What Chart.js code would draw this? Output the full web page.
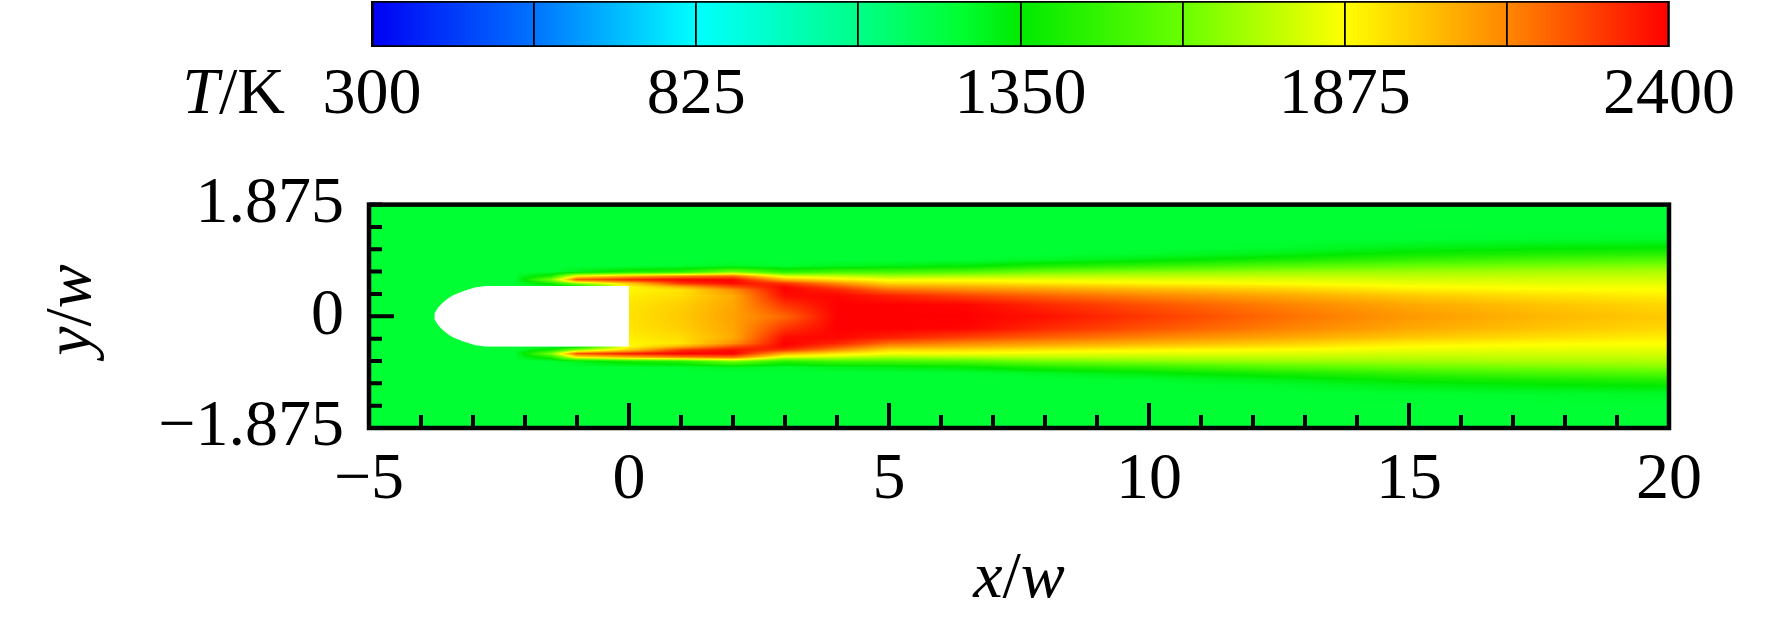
<!DOCTYPE html>
<html>
<head>
<meta charset="utf-8">
<script src="https://cdn.jsdelivr.net/npm/chart.js@4.4.1/dist/chart.umd.min.js"></script>
<style>
  html, body { margin: 0; padding: 0; background: #fff; }
  #wrap { position: relative; width: 1772px; height: 618px; }
  #cbar { position: absolute; left: 0; top: 0; }
  #field { position: absolute; left: 0; top: 140px; }
</style>
</head>
<body>
<div id="wrap">
  <canvas id="cbar" width="1772" height="140"></canvas>
  <canvas id="field" width="1772" height="478"></canvas>
</div>
<script>
//Colour scale
var cmap_T = [300, 562.5, 825, 1087.5, 1250, 1350, 1612.5, 1875, 2137.5, 2400];
var cmap_rgb = [[0, 0, 245], [0, 115, 255], [0, 255, 255], [0, 255, 135], [0, 255, 51], [0, 234, 0],
                [105, 255, 0], [255, 255, 0], [255, 135, 0], [255, 0, 0]];
var cbar_ticks = [300, 562.5, 825, 1087.5, 1350, 1612.5, 1875, 2137.5, 2400];
var cbar_labels = [300, 825, 1350, 1875, 2400];

//Temperature. Field is symmetric, so only |y/w| is kept
var x_stations = [-5, -2.2, -1.5, -1, 0, 1, 2, 3, 4, 5, 6.5, 8, 10, 12.5, 15, 17.5, 20];
var y_stations = [0, 0.2, 0.35, 0.45, 0.5, 0.56, 0.62, 0.68, 0.75, 0.85, 0.95, 1.05, 1.15, 1.3, 1.5, 1.875];
var T_rows = [
  [1250, 1250, 1250, 1250, 1250, 1250, 1250, 1250, 1250, 1250, 1250, 1250, 1250, 1250, 1250, 1250], // -5
  [1250, 1250, 1250, 1250, 1250, 1250, 1250, 1250, 1250, 1250, 1250, 1250, 1250, 1250, 1250, 1250], // -2.2
  [1250, 1250, 1250, 1250, 1250, 1400, 1650, 1420, 1250, 1250, 1250, 1250, 1250, 1250, 1250, 1250], // -1.5
  [1250, 1250, 1250, 1250, 1300, 1700, 2250, 1900, 1300, 1250, 1250, 1250, 1250, 1250, 1250, 1250], // -1
  [1940, 1930, 1910, 1890, 1880, 2000, 2350, 2050, 1400, 1250, 1250, 1250, 1250, 1250, 1250, 1250], // 0
  [1990, 1980, 1950, 1930, 2050, 2300, 2400, 2150, 1450, 1260, 1250, 1250, 1250, 1250, 1250, 1250], // 1
  [2080, 2070, 2060, 2120, 2250, 2380, 2400, 2200, 1650, 1280, 1250, 1250, 1250, 1250, 1250, 1250], // 2
  [2200, 2300, 2380, 2400, 2390, 2300, 2050, 1820, 1450, 1260, 1250, 1250, 1250, 1250, 1250, 1250], // 3
  [2400, 2400, 2390, 2330, 2250, 2120, 1930, 1780, 1520, 1290, 1250, 1250, 1250, 1250, 1250, 1250], // 4
  [2400, 2400, 2340, 2190, 2090, 1960, 1860, 1720, 1530, 1310, 1250, 1250, 1250, 1250, 1250, 1250], // 5
  [2400, 2390, 2270, 2130, 2060, 1950, 1860, 1740, 1560, 1340, 1255, 1250, 1250, 1250, 1250, 1250], // 6.5
  [2370, 2320, 2210, 2090, 2020, 1920, 1840, 1760, 1630, 1420, 1280, 1250, 1250, 1250, 1250, 1250], // 8
  [2290, 2240, 2140, 2040, 1975, 1890, 1830, 1760, 1670, 1480, 1330, 1265, 1250, 1250, 1250, 1250], // 10
  [2190, 2150, 2070, 1985, 1935, 1870, 1820, 1770, 1700, 1560, 1410, 1310, 1265, 1250, 1250, 1250], // 12.5
  [2100, 2065, 1995, 1915, 1880, 1840, 1800, 1760, 1710, 1610, 1480, 1380, 1310, 1255, 1250, 1250], // 15
  [2035, 2005, 1945, 1885, 1860, 1830, 1800, 1770, 1725, 1640, 1530, 1420, 1340, 1265, 1250, 1250], // 17.5
  [1990, 1960, 1910, 1870, 1855, 1830, 1800, 1770, 1735, 1660, 1560, 1450, 1360, 1275, 1250, 1250]  // 20
];

//Bluff body outline (white)
var body_x = [0, -2.75, -2.97, -3.2, -3.37, -3.47, -3.57, -3.64, -3.69, -3.72, -3.73,
              -3.72, -3.69, -3.64, -3.57, -3.47, -3.37, -3.2, -2.97, -2.75, 0];
var body_y = [0.5, 0.5, 0.475, 0.41, 0.35, 0.30, 0.23, 0.17, 0.11, 0.06, 0,
              -0.06, -0.11, -0.17, -0.23, -0.30, -0.35, -0.41, -0.475, -0.5, -0.5];

var serif = '"Liberation Serif", "Times New Roman", serif';
var tick_font = { family: serif, size: 66 };

function minus(v) {
  return (v < 0 ? "\u2212" : "") + Math.abs(v);
}

function temp_color(T) {
  var k = 0;
  while (k < cmap_T.length - 2 && T > cmap_T[k + 1]) k++;
  var t = (T - cmap_T[k]) / (cmap_T[k + 1] - cmap_T[k]);
  t = Math.max(0, Math.min(1, t));
  var a = cmap_rgb[k], b = cmap_rgb[k + 1];
  return [a[0] + (b[0] - a[0]) * t, a[1] + (b[1] - a[1]) * t, a[2] + (b[2] - a[2]) * t];
}

//draws text runs like [["T", true], ["/K", false]] (true = italic)
function draw_runs(ctx, runs, x, y, align) {
  var widths = runs.map(function (r) {
    ctx.font = (r[1] ? "italic " : "") + "66px " + serif;
    return ctx.measureText(r[0]).width;
  });
  var total = widths.reduce(function (a, b) { return a + b; }, 0);
  var cx = align === "right" ? x - total : (align === "center" ? x - total / 2 : x);
  ctx.textAlign = "left";
  for (var i = 0; i < runs.length; i++) {
    ctx.font = (runs[i][1] ? "italic " : "") + "66px " + serif;
    ctx.fillText(runs[i][0], cx, y);
    cx += widths[i];
  }
}

Chart.defaults.font.family = serif;
Chart.defaults.color = "#000";

//Colour bar
var ctx = document.getElementById("cbar").getContext("2d");
var cbar_chart = new Chart(ctx, {
  type: "bar",
  data: {
    labels: ["T"],
    datasets: [{
      data: [[cmap_T[0], cmap_T[cmap_T.length - 1]]],
      backgroundColor: function (c) {
        var chart = c.chart;
        if (!chart.chartArea) return "#888";
        var xs = chart.scales.x;
        var g = chart.ctx.createLinearGradient(xs.getPixelForValue(cmap_T[0]), 0,
          xs.getPixelForValue(cmap_T[cmap_T.length - 1]), 0);
        for (var i = 0; i < cmap_T.length; i++) {
          var c2 = cmap_rgb[i];
          g.addColorStop((cmap_T[i] - cmap_T[0]) / (cmap_T[cmap_T.length - 1] - cmap_T[0]),
            "rgb(" + c2[0] + "," + c2[1] + "," + c2[2] + ")");
        }
        return g;
      },
      borderColor: "#000",
      borderWidth: 2,
      borderSkipped: false,
      barPercentage: 1.0,
      categoryPercentage: 1.0
    }]
  },
  options: {
    indexAxis: "y",
    responsive: false,
    animation: false,
    devicePixelRatio: 1,
    layout: { padding: { left: 372, right: 103, top: 1, bottom: 0 } },
    scales: {
      x: {
        type: "linear",
        min: 300,
        max: 2400,
        afterBuildTicks: function (s) {
          s.ticks = cbar_ticks.map(function (v) { return { value: v }; });
        },
        afterFit: function (s) { s.height = 93; },
        ticks: {
          autoSkip: false,
          maxRotation: 0,
          padding: 9,
          font: tick_font,
          color: "#000",
          callback: function (v) { return cbar_labels.indexOf(v) >= 0 ? String(v) : ""; }
        },
        grid: { color: "#000", lineWidth: 1.8, drawTicks: false, z: 1 },
        border: { display: false }
      },
      y: { display: false }
    },
    plugins: { legend: { display: false }, tooltip: { enabled: false } }
  },
  plugins: [{
    id: "tk_label",
    afterDraw: function (chart) {
      var xs = chart.scales.x;
      var c = chart.ctx;
      c.save();
      c.fillStyle = "#000";
      c.textBaseline = "middle";
      draw_runs(c, [["T", true], ["/K", false]], 285, xs.top + 9 + 66 * 1.2 / 2, "right");
      c.restore();
    }
  }]
});

//Temperature field
var field_plugin = {
  id: "field",
  beforeDatasetsDraw: function (chart) {
    var area = chart.chartArea, xs = chart.scales.x, ys = chart.scales.y;
    var w = Math.round(area.right - area.left), h = Math.round(area.bottom - area.top);
    var img = chart.ctx.createImageData(w, h);
    var col = new Array(y_stations.length);
    for (var i = 0; i < w; i++) {
      var xv = xs.getValueForPixel(area.left + i + 0.5);
      var k = 0;
      while (k < x_stations.length - 2 && xv > x_stations[k + 1]) k++;
      var t = (xv - x_stations[k]) / (x_stations[k + 1] - x_stations[k]);
      t = Math.max(0, Math.min(1, t));
      for (var j = 0; j < y_stations.length; j++) {
        col[j] = T_rows[k][j] * (1 - t) + T_rows[k + 1][j] * t;
      }
      for (var r = 0; r < h; r++) {
        var yv = Math.abs(ys.getValueForPixel(area.top + r + 0.5));
        var m = 0;
        while (m < y_stations.length - 2 && yv > y_stations[m + 1]) m++;
        var s = (yv - y_stations[m]) / (y_stations[m + 1] - y_stations[m]);
        s = Math.max(0, Math.min(1, s));
        var rgb = temp_color(col[m] * (1 - s) + col[m + 1] * s);
        var p = (r * w + i) * 4;
        img.data[p] = rgb[0];
        img.data[p + 1] = rgb[1];
        img.data[p + 2] = rgb[2];
        img.data[p + 3] = 255;
      }
    }
    chart.ctx.putImageData(img, Math.round(area.left), Math.round(area.top));
  },
  afterDatasetsDraw: function (chart) {
    var c = chart.ctx, area = chart.chartArea, xs = chart.scales.x, ys = chart.scales.y;
    c.save();
    c.strokeStyle = "#000";
    c.lineWidth = 4;
    c.beginPath();
    xs.ticks.forEach(function (t) {
      var px = xs.getPixelForValue(t.value);
      var len = Math.abs(t.value % 5) < 1e-9 ? 25 : 13;
      c.moveTo(px, area.bottom);
      c.lineTo(px, area.bottom - len);
    });
    ys.ticks.forEach(function (t) {
      var py = ys.getPixelForValue(t.value);
      var len = Math.abs(t.value) < 1e-9 ? 25 : 13;
      c.moveTo(area.left, py);
      c.lineTo(area.left + len, py);
    });
    c.stroke();
    c.lineWidth = 4.5;
    c.strokeRect(area.left, area.top, area.right - area.left, area.bottom - area.top);
    c.restore();
  },
  afterDraw: function (chart) {
    var c = chart.ctx;
    c.save();
    c.fillStyle = "#000";
    c.textBaseline = "alphabetic";
    draw_runs(c, [["x", true], ["/", false], ["w", true]], 1019, 457, "center");
    c.translate(90, 170);
    c.rotate(-Math.PI / 2);
    draw_runs(c, [["y", true], ["/", false], ["w", true]], 0, 0, "center");
    c.restore();
  }
};

ctx = document.getElementById("field").getContext("2d");
var field_chart = new Chart(ctx, {
  type: "scatter",
  data: {
    datasets: [{
      data: body_x.map(function (x, i) { return { x: x, y: body_y[i] }; }),
      showLine: true,
      fill: "shape",
      backgroundColor: "#fff",
      borderColor: "#fff",
      borderWidth: 1,
      pointRadius: 0
    }]
  },
  options: {
    responsive: false,
    animation: false,
    devicePixelRatio: 1,
    layout: { padding: { left: 0, right: 103, top: 53, bottom: 0 } },
    scales: {
      x: {
        type: "linear",
        min: -5,
        max: 20,
        afterFit: function (s) { s.height = 190; },
        ticks: {
          stepSize: 1,
          autoSkip: false,
          maxRotation: 0,
          padding: 13,
          font: tick_font,
          color: "#000",
          callback: function (v) { return v % 5 === 0 ? minus(v) : ""; }
        },
        grid: { display: false, drawTicks: false },
        border: { display: false }
      },
      y: {
        type: "linear",
        min: -1.875,
        max: 1.875,
        afterFit: function (s) { s.width = 369; },
        ticks: {
          stepSize: 0.375,
          autoSkip: false,
          padding: 25,
          font: tick_font,
          color: "#000",
          callback: function (v) {
            if (Math.abs(v) < 1e-9) return "0";
            if (Math.abs(Math.abs(v) - 1.875) < 1e-9) return minus(v);
            return "";
          }
        },
        grid: { display: false, drawTicks: false },
        border: { display: false }
      }
    },
    plugins: { legend: { display: false }, tooltip: { enabled: false } }
  },
  plugins: [field_plugin]
});
</script>
</body>
</html>
